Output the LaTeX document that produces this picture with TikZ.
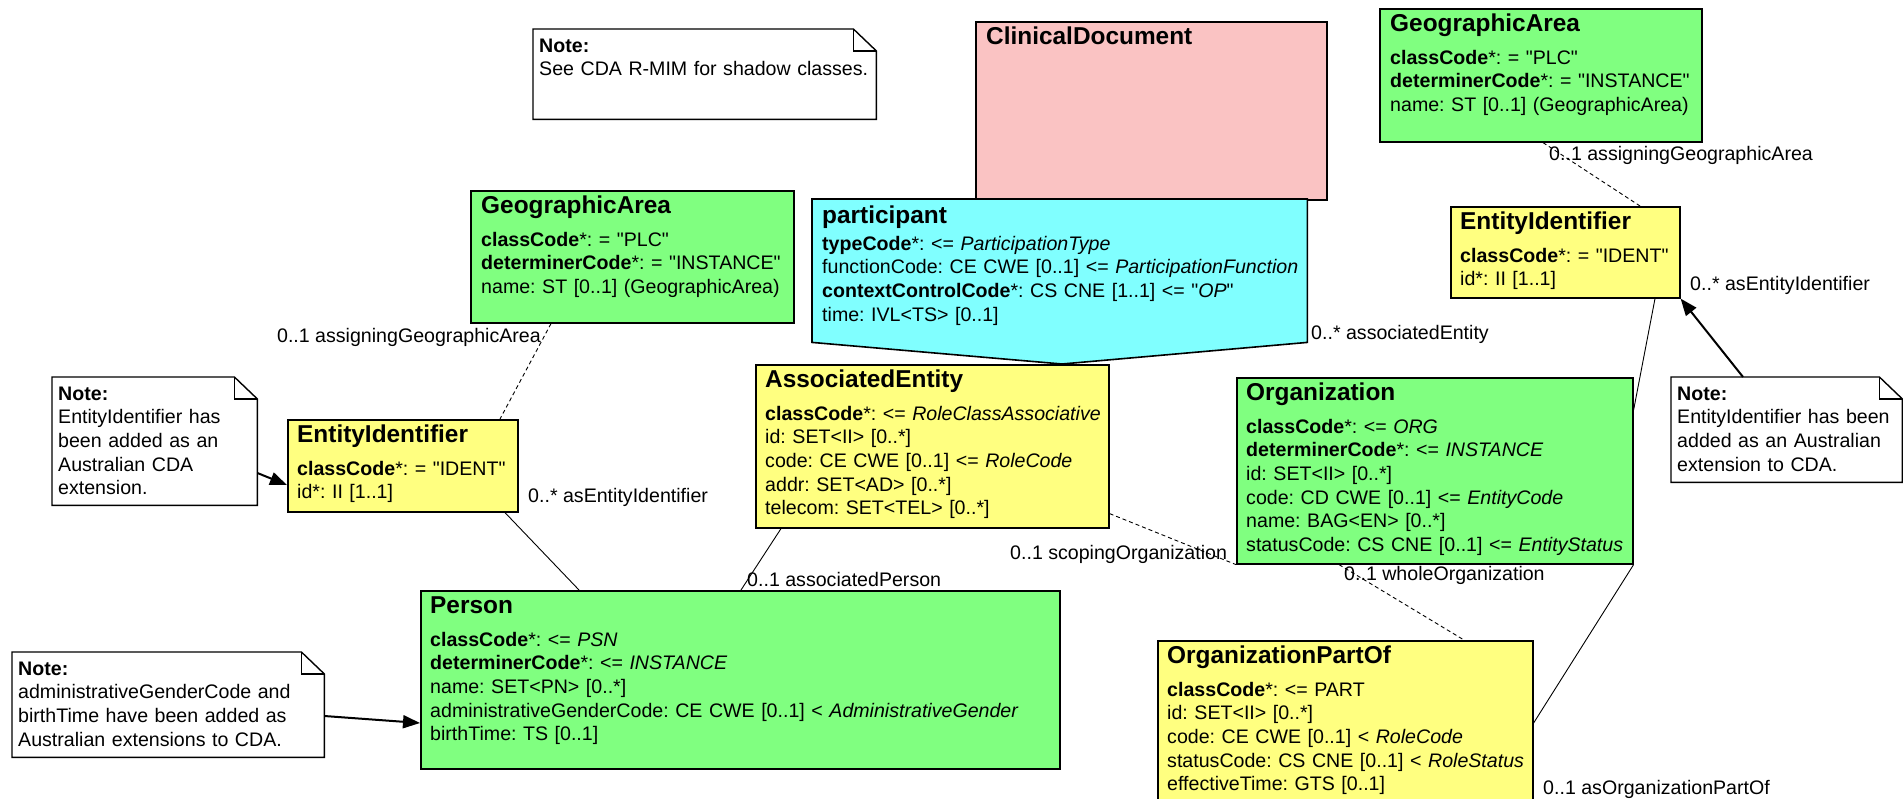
\documentclass[tikz,border=0pt]{standalone}
\usepackage{fontspec}
\setmainfont{Liberation Sans}[Ligatures=TeXOff]
\usetikzlibrary{calc,arrows.meta}
\frenchspacing

\definecolor{clsgreen}{RGB}{128,255,128}
\definecolor{clsyellow}{RGB}{255,255,128}
\definecolor{clscyan}{RGB}{128,255,255}
\definecolor{clspink}{RGB}{250,195,195}

\tikzset{
  clsbox/.style={draw=black, line width=1.6pt, anchor=north west, inner sep=0pt},
  clstitle/.style={anchor=base west, inner sep=0pt, font=\fontsize{24.4}{28}\selectfont\bfseries},
  clsattr/.style={anchor=base west, inner sep=0pt, text width=640pt, align=left, font=\fontsize{19.6}{23.7}\selectfont},
  notebox/.style={anchor=north west, inner sep=0pt},
  noteline/.style={draw=black, line width=1.4pt},
  assoc/.style={draw=black, line width=0.9pt},
  dashassoc/.style={assoc, dash pattern=on 4pt off 3pt},
  rolelbl/.style={inner sep=0pt, font=\fontsize{19.6}{23.7}\selectfont},
  notearrow/.style={draw=black, line width=2pt, -{Triangle[length=17pt,width=13pt]}},
}

\begin{document}
\frenchspacing
\begin{tikzpicture}[x=1pt,y=-1pt]
  \clip (0,0) rectangle (1903,798);

  % Notities (rechthoek met omgevouwen hoek)
  \node[notebox, minimum width=343, minimum height=90] (noteA) at (533,29) {};
  \node[notebox, minimum width=205, minimum height=128] (noteB) at (52,377) {};
  \node[notebox, minimum width=231, minimum height=105] (noteC) at (1671,377) {};
  \node[notebox, minimum width=312, minimum height=105] (noteD) at (12,652) {};
  \foreach \n in {noteA, noteB, noteC, noteD} {
    \draw[noteline] (\n.north west) -- ([xshift=-23pt]\n.north east) -- ([yshift=-22pt]\n.north east)
      -- (\n.south east) -- (\n.south west) -- cycle;
    \draw[noteline] ([xshift=-23pt]\n.north east) |- ([yshift=-22pt]\n.north east);
  }
  \node[clsattr] (noteAtxt) at ($(noteA.north west)+(6,23)$) {\textbf{Note:}\\ See CDA R-MIM for shadow classes.};
  \node[clsattr] (noteBtxt) at ($(noteB.north west)+(6,23)$) {\textbf{Note:}\\ EntityIdentifier has\\ been added as an\\ Australian CDA\\ extension.};
  \node[clsattr] (noteCtxt) at ($(noteC.north west)+(6,23)$) {\textbf{Note:}\\ EntityIdentifier has been\\ added as an Australian\\ extension to CDA.};
  \node[clsattr] (noteDtxt) at ($(noteD.north west)+(6,23)$) {\textbf{Note:}\\ administrativeGenderCode and\\ birthTime have been added as\\ Australian extensions to CDA.};

  % ClinicalDocument en participant
  \node[clsbox, fill=clspink, minimum width=351, minimum height=178] (cdoc) at (975,21) {};
  \node[clstitle] (cdocT) at ($(cdoc.north west)+(11,23)$) {ClinicalDocument};

  \node[clsbox, fill=clsyellow, minimum width=353, minimum height=163] (aent) at (755,364) {};
  \node[clstitle] (aentT) at ($(aent.north west)+(10,23)$) {AssociatedEntity};
  \node[clsattr] (aentA) at ($(aent.north west)+(10,56)$) {\textbf{classCode}*: <= \textit{RoleClassAssociative}\\
    id: SET<II> [0..*]\\
    code: CE CWE [0..1] <= \textit{RoleCode}\\
    addr: SET<AD> [0..*]\\
    telecom: SET<TEL> [0..*]};

  \node[notebox, minimum width=495, minimum height=143] (partic) at (812,199) {};
  \coordinate (ptip) at ($(aent.north west)+(307,0)$);
  \draw[clsbox, fill=clscyan] (partic.north west) -- (partic.north east) -- (partic.south east)
    -- (ptip) -- (partic.south west) -- cycle;
  \node[clstitle] (particT) at ($(partic.north west)+(10,24)$) {participant};
  \node[clsattr] (particA) at ($(partic.north west)+(10,51)$) {\textbf{typeCode}*: <= \textit{ParticipationType}\\
    functionCode: CE CWE [0..1] <= \textit{ParticipationFunction}\\
    \textbf{contextControlCode}*: CS CNE [1..1] <= "\textit{OP}"\\
    time: IVL<TS> [0..1]};

  % Linkerkant
  \node[clsbox, fill=clsgreen, minimum width=323, minimum height=132] (geoL) at (470,190) {};
  \node[clstitle] (geoLT) at ($(geoL.north west)+(11,23)$) {GeographicArea};
  \node[clsattr] (geoLA) at ($(geoL.north west)+(11,56)$) {\textbf{classCode}*: = "PLC"\\
    \textbf{determinerCode}*: = "INSTANCE"\\
    name: ST [0..1] (GeographicArea)};

  \node[clsbox, fill=clsyellow, minimum width=230, minimum height=92] (entL) at (287,419) {};
  \node[clstitle] (entLT) at ($(entL.north west)+(10,23)$) {EntityIdentifier};
  \node[clsattr] (entLA) at ($(entL.north west)+(10,56)$) {\textbf{classCode}*: = "IDENT"\\
    id*: II [1..1]};

  \node[clsbox, fill=clsgreen, minimum width=639, minimum height=178] (person) at (420,590) {};
  \node[clstitle] (personT) at ($(person.north west)+(10,23)$) {Person};
  \node[clsattr] (personA) at ($(person.north west)+(10,56)$) {\textbf{classCode}*: <= \textit{PSN}\\
    \textbf{determinerCode}*: <= \textit{INSTANCE}\\
    name: SET<PN> [0..*]\\
    administrativeGenderCode: CE CWE [0..1] < \textit{AdministrativeGender}\\
    birthTime: TS [0..1]};

  % Rechterkant
  \node[clsbox, fill=clsgreen, minimum width=322, minimum height=133] (geoR) at (1379,8) {};
  \node[clstitle] (geoRT) at ($(geoR.north west)+(11,23)$) {GeographicArea};
  \node[clsattr] (geoRA) at ($(geoR.north west)+(11,56)$) {\textbf{classCode}*: = "PLC"\\
    \textbf{determinerCode}*: = "INSTANCE"\\
    name: ST [0..1] (GeographicArea)};

  \node[clsbox, fill=clsyellow, minimum width=229, minimum height=91] (entR) at (1450,206) {};
  \node[clstitle] (entRT) at ($(entR.north west)+(10,23)$) {EntityIdentifier};
  \node[clsattr] (entRA) at ($(entR.north west)+(10,56)$) {\textbf{classCode}*: = "IDENT"\\
    id*: II [1..1]};

  \node[clsbox, fill=clsgreen, minimum width=396, minimum height=186] (org) at (1236,377) {};
  \node[clstitle] (orgT) at ($(org.north west)+(10,23)$) {Organization};
  \node[clsattr] (orgA) at ($(org.north west)+(10,56)$) {\textbf{classCode}*: <= \textit{ORG}\\
    \textbf{determinerCode}*: <= \textit{INSTANCE}\\
    id: SET<II> [0..*]\\
    code: CD CWE [0..1] <= \textit{EntityCode}\\
    name: BAG<EN> [0..*]\\
    statusCode: CS CNE [0..1] <= \textit{EntityStatus}};

  \node[clsbox, fill=clsyellow, minimum width=375, minimum height=175] (orgpart) at (1157,640) {};
  \node[clstitle] (orgpartT) at ($(orgpart.north west)+(10,23)$) {OrganizationPartOf};
  \node[clsattr] (orgpartA) at ($(orgpart.north west)+(10,56)$) {\textbf{classCode}*: <= PART\\
    id: SET<II> [0..*]\\
    code: CE CWE [0..1] < \textit{RoleCode}\\
    statusCode: CS CNE [0..1] < \textit{RoleStatus}\\
    effectiveTime: GTS [0..1]};

  % Associaties
  \draw[dashassoc] ($(geoL.south west)+(81,0)$) -- ($(entL.north west)+(213,0)$);
  \draw[assoc] ($(entL.south west)+(218,0)$) -- ($(person.north west)+(159,0)$);
  \draw[assoc] ($(aent.south west)+(26,0)$) -- ($(person.north west)+(321,0)$);
  \draw[dashassoc] ($(aent.south east)+(0,-15)$) -- (org.south west);
  \draw[dashassoc] ($(org.south west)+(103,0)$) -- ($(orgpart.north west)+(307,0)$);
  \draw[dashassoc] ($(geoR.south west)+(164,0)$) -- ($(entR.north west)+(190,0)$);
  \draw[assoc] ($(entR.south west)+(205,0)$) -- ($(org.north east)+(0,33)$);
  \draw[assoc] (org.south east) -- ($(orgpart.north east)+(0,83)$);

  % Rolnamen
  \node[rolelbl, anchor=base east] (lblGeoL) at (541,342) {0..1 assigningGeographicArea};
  \node[rolelbl, anchor=base west] (lblEntL) at (528,502) {0..* asEntityIdentifier};
  \node[rolelbl, anchor=base west] (lblPers) at (747,586) {0..1 associatedPerson};
  \node[rolelbl, anchor=base west] (lblAent) at (1311,339) {0..* associatedEntity};
  \node[rolelbl, anchor=base west] (lblScop) at (1010,559) {0..1 scopingOrganization};
  \node[rolelbl, anchor=base west] (lblWhole) at (1344,580) {0..1 wholeOrganization};
  \node[rolelbl, anchor=base west] (lblGeoR) at (1549,160) {0..1 assigningGeographicArea};
  \node[rolelbl, anchor=base west] (lblEntR) at (1690,290) {0..* asEntityIdentifier};
  \node[rolelbl, anchor=base west] (lblPart) at (1543,794) {0..1 asOrganizationPartOf};

  % Pijlen van notities
  \draw[notearrow] ($(noteB.north east)+(0,96)$) -- ($(entL.north west)+(0,66)$);
  \draw[notearrow] ($(noteC.north west)+(72,0)$) -- (entR.south east);
  \draw[notearrow] ($(noteD.north east)+(0,64)$) -- ($(person.north west)+(0,133)$);
\end{tikzpicture}
\end{document}
